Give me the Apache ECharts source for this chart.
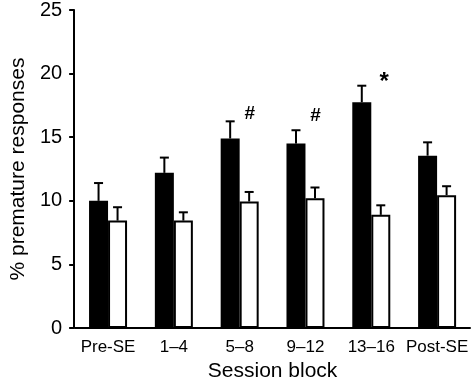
<!DOCTYPE html>
<html>
<head>
<meta charset="utf-8">
<script src="https://cdn.jsdelivr.net/npm/echarts@6/dist/echarts.min.js"></script>
<style>
  html, body { margin: 0; padding: 0; background: #fff; }
  #chart { width: 472px; height: 387px; }
</style>
</head>
<body>
<div id="chart"></div>
<script>
const categories = ['Pre-SE', '1\u20134', '5\u20138', '9\u201312', '13\u201316', 'Post-SE'];
const blackValues = [10.0, 12.2, 14.9, 14.5, 17.75, 13.55];
const blackSem = [1.4, 1.2, 1.35, 1.05, 1.3, 1.05];
const whiteValues = [8.45, 8.45, 9.95, 10.2, 8.9, 10.45];
const whiteSem = [1.05, 0.65, 0.75, 0.85, 0.75, 0.7];
const annotCategories = [2, 3, 4];
const annotValues = [16.85, 16.7, 19.3];
const annotTexts = ['#', '#', '*'];
const yTicks = { min: 0, max: 25, interval: 5 };

const FONT = '"Liberation Sans", Arial, sans-serif';
const BAR_W = 19;

function errSeries(values, sems, side) {
  return {
    type: 'custom',
    z: 5,
    data: values.map((v, i) => [i, v, v + sems[i]]),
    renderItem: function (params, api) {
      const base = api.coord([api.value(0), api.value(1)]);
      const top = api.coord([api.value(0), api.value(2)]);
      const x = base[0] + side * BAR_W / 2;
      const cap = 4.5;
      return {
        type: 'group',
        children: [
          { type: 'line', shape: { x1: x, y1: base[1], x2: x, y2: top[1] }, style: { stroke: '#000', lineWidth: 2 } },
          { type: 'line', shape: { x1: x - cap, y1: top[1], x2: x + cap, y2: top[1] }, style: { stroke: '#000', lineWidth: 2 } }
        ]
      };
    }
  };
}

const chart = echarts.init(document.getElementById('chart'));
chart.setOption({
  animation: false,
  backgroundColor: '#fff',
  grid: { left: 66, right: 2, top: 7, bottom: 55 },
  xAxis: {
    type: 'category',
    data: categories,
    name: 'Session block',
    nameLocation: 'middle',
    nameGap: 29,
    nameTextStyle: { fontFamily: FONT, fontSize: 21, color: '#000' },
    axisLine: { lineStyle: { color: '#000', width: 2 } },
    axisTick: { alignWithLabel: true, length: 4, lineStyle: { color: '#000', width: 1.5 } },
    axisLabel: { interval: 0, fontFamily: FONT, fontSize: 17, color: '#000', margin: 11 }
  },
  yAxis: {
    type: 'value',
    min: yTicks.min, max: yTicks.max, interval: yTicks.interval,
    offset: 1,
    name: '% premature responses',
    nameLocation: 'middle',
    nameGap: 45,
    nameTextStyle: { fontFamily: FONT, fontSize: 21, color: '#000' },
    axisLine: { show: true, lineStyle: { color: '#000', width: 2 } },
    axisTick: { show: true, length: 5, lineStyle: { color: '#000', width: 2 } },
    axisLabel: { fontFamily: FONT, fontSize: 20, color: '#000', margin: 12 },
    splitLine: { show: false }
  },
  series: [
    {
      type: 'bar', data: blackValues, barWidth: BAR_W, barGap: '0%',
      itemStyle: { color: '#000' }
    },
    {
      type: 'bar', data: whiteValues, barWidth: BAR_W, barGap: '0%',
      itemStyle: { color: '#fff', borderColor: '#000', borderWidth: 2 }
    },
    errSeries(blackValues, blackSem, -1),
    errSeries(whiteValues, whiteSem, 1),
    {
      type: 'custom',
      z: 6,
      data: annotCategories.map((c, i) => [c, annotValues[i], annotTexts[i]]),
      renderItem: function (params, api) {
        const p = api.coord([api.value(0), api.value(1)]);
        const isStar = annotTexts[params.dataIndex] === '*';
        return {
          type: 'text',
          style: {
            x: p[0] + (isStar ? 13 : 10), y: p[1],
            text: annotTexts[params.dataIndex],
            fill: '#000',
            font: 'bold ' + (isStar ? 24 : 19) + 'px ' + FONT,
            align: 'center', verticalAlign: 'middle'
          }
        };
      }
    }
  ]
});
</script>
</body>
</html>
